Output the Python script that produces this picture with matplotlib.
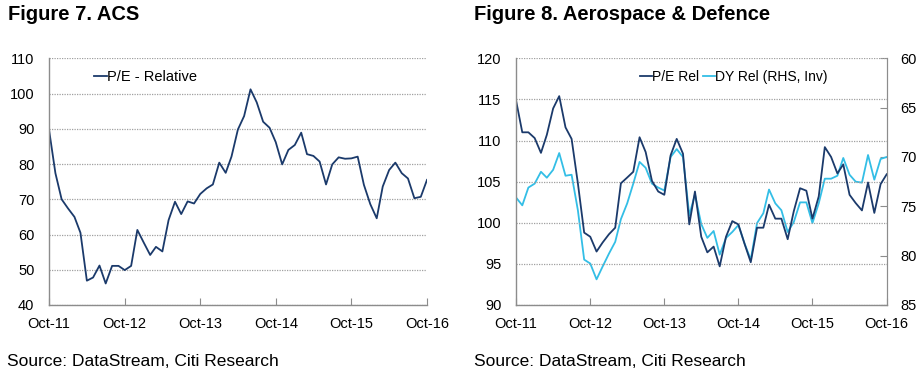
import matplotlib
matplotlib.use("Agg")
import matplotlib.pyplot as plt
import pandas as pd

plt.rcParams['font.family'] = ['Liberation Sans', 'DejaVu Sans']

# ---- Data ----
dates = pd.date_range('2011-10-01', periods=61, freq='MS')
tick_labels = ['Oct-11', 'Oct-12', 'Oct-13', 'Oct-14', 'Oct-15', 'Oct-16']

acs_pe_rel = [89.8, 77.4, 70.0, 67.4, 65.0, 60.5, 46.9, 47.8, 51.2, 46.1,
              51.1, 51.1, 49.9, 51.1, 61.3, 57.7, 54.2, 56.5, 55.2, 64.1,
              69.3, 65.8, 69.4, 68.8, 71.5, 73.1, 74.2, 80.4, 77.5, 82.1,
              89.8, 93.6, 101.2, 97.5, 92.0, 90.3, 86.2, 79.9, 84.0, 85.4,
              88.9, 82.8, 82.3, 80.7, 74.2, 79.9, 81.9, 81.5, 81.6, 82.1,
              74.1, 68.6, 64.6, 73.6, 78.3, 80.4, 77.4, 75.9, 70.3, 70.7,
              75.5]

ad_pe_rel = [114.9, 111.0, 111.0, 110.3, 108.5, 110.7, 113.9, 115.4, 111.6, 110.2,
             104.8, 98.8, 98.3, 96.5, 97.6, 98.6, 99.4, 104.8, 105.5, 106.2,
             110.4, 108.6, 105.1, 103.8, 103.4, 108.2, 110.2, 108.4, 99.8, 103.8,
             98.3, 96.4, 97.1, 94.7, 98.3, 100.2, 99.8, 97.4, 95.2, 99.4,
             99.4, 102.2, 100.5, 100.5, 98.0, 101.4, 104.2, 103.9, 100.5, 103.2,
             109.2, 108.0, 106.0, 107.1, 103.4, 102.4, 101.5, 104.9, 101.2, 104.7,
             105.9]

ad_dy_rel = [74.1, 74.9, 73.1, 72.7, 71.5, 72.1, 71.3, 69.6, 71.9, 71.8,
             75.4, 80.4, 80.8, 82.4, 81.1, 79.8, 78.6, 76.3, 74.7, 72.7,
             70.5, 71.1, 72.7, 73.1, 73.4, 70.0, 69.2, 70.0, 75.9, 73.8,
             76.8, 78.2, 77.5, 79.9, 78.2, 77.6, 76.9, 78.8, 80.4, 76.7,
             75.7, 73.3, 74.7, 75.4, 77.6, 76.6, 74.6, 74.6, 76.7, 74.7,
             72.2, 72.2, 71.9, 70.1, 71.8, 72.5, 72.6, 69.8, 72.3, 70.2,
             70.0]

NAVY = '#1B3A6B'
CYAN = '#33BEE6'
GRID = '#A0A0A0'
SPINE = '#8C8C8C'

fig = plt.figure(figsize=(9.24, 3.78), dpi=100)

W, H = 924, 378
def ax_rect(x0, x1, ytop, ybot):
    return [x0 / W, 1 - ybot / H, (x1 - x0) / W, (ybot - ytop) / H]

tick_dates = [dates[i] for i in range(0, 61, 12)]

def style_axes(ax, yticks, ylim):
    ax.set_xlim(dates[0], dates[-1])
    ax.set_ylim(*ylim)
    ax.set_yticks(yticks)
    ax.set_xticks(tick_dates)
    ax.set_xticklabels(tick_labels)
    for s in ['top', 'right']:
        ax.spines[s].set_visible(False)
    for s in ['left', 'bottom']:
        ax.spines[s].set_color(SPINE)
        ax.spines[s].set_linewidth(1.0)
    ax.yaxis.grid(True, linestyle=(0, (1, 1)), color=GRID, linewidth=0.9)
    ax.set_axisbelow(True)
    ax.tick_params(axis='y', length=0, pad=10.5, labelsize=10.5)
    ax.tick_params(axis='x', direction='in', length=5, color=SPINE, pad=8.5, labelsize=10.5)

# ---- Left chart ----
ax1 = fig.add_axes(ax_rect(49, 427, 58.3, 305))
ax1.plot(dates, acs_pe_rel, color=NAVY, lw=1.3, label='P/E - Relative')
style_axes(ax1, range(40, 111, 10), (40, 110))
ax1.legend(loc='center left', bbox_to_anchor=(0.10, 0.925), frameon=False,
           handlelength=0.9, handletextpad=0.0, fontsize=10.5, borderpad=0)

# ---- Right chart ----
ax2 = fig.add_axes(ax_rect(516, 886.7, 58.3, 305))
l1, = ax2.plot(dates, ad_pe_rel, color=NAVY, lw=1.3, label='P/E Rel')
style_axes(ax2, range(90, 121, 5), (90, 120))
ax2.spines['right'].set_visible(True)
ax2.spines['right'].set_color(SPINE)

ax3 = ax2.twinx()
l2, = ax3.plot(dates, ad_dy_rel, color=CYAN, lw=1.3, label='DY Rel (RHS, Inv)')
ax3.set_ylim(85, 60)
ax3.set_yticks(range(60, 86, 5))
for s in ['top', 'left', 'bottom']:
    ax3.spines[s].set_visible(False)
ax3.spines['right'].set_color(SPINE)
ax3.tick_params(axis='y', direction='in', length=5, color=SPINE, pad=10, labelsize=10.5)
ax2.set_zorder(ax3.get_zorder() + 1)
ax2.patch.set_visible(False)

ax2.legend([l1, l2], ['P/E Rel', 'DY Rel (RHS, Inv)'], loc='center left',
           bbox_to_anchor=(0.315, 0.925), frameon=False, ncol=2,
           handlelength=0.9, handletextpad=0.0, columnspacing=0.25,
           fontsize=10, borderpad=0)

# ---- Titles and sources ----
fig.text(8 / W, 1 - 20.5 / H, 'Figure 7. ACS', fontsize=14.5, fontweight='bold', va='baseline')
fig.text(474 / W, 1 - 20.5 / H, 'Figure 8. Aerospace & Defence', fontsize=14.5,
         fontweight='bold', va='baseline')
fig.text(7 / W, 1 - 366.5 / H, 'Source: DataStream, Citi Research', fontsize=12.5, va='baseline')
fig.text(474 / W, 1 - 366.5 / H, 'Source: DataStream, Citi Research', fontsize=12.5, va='baseline')

fig.savefig('out.png', dpi=100)
